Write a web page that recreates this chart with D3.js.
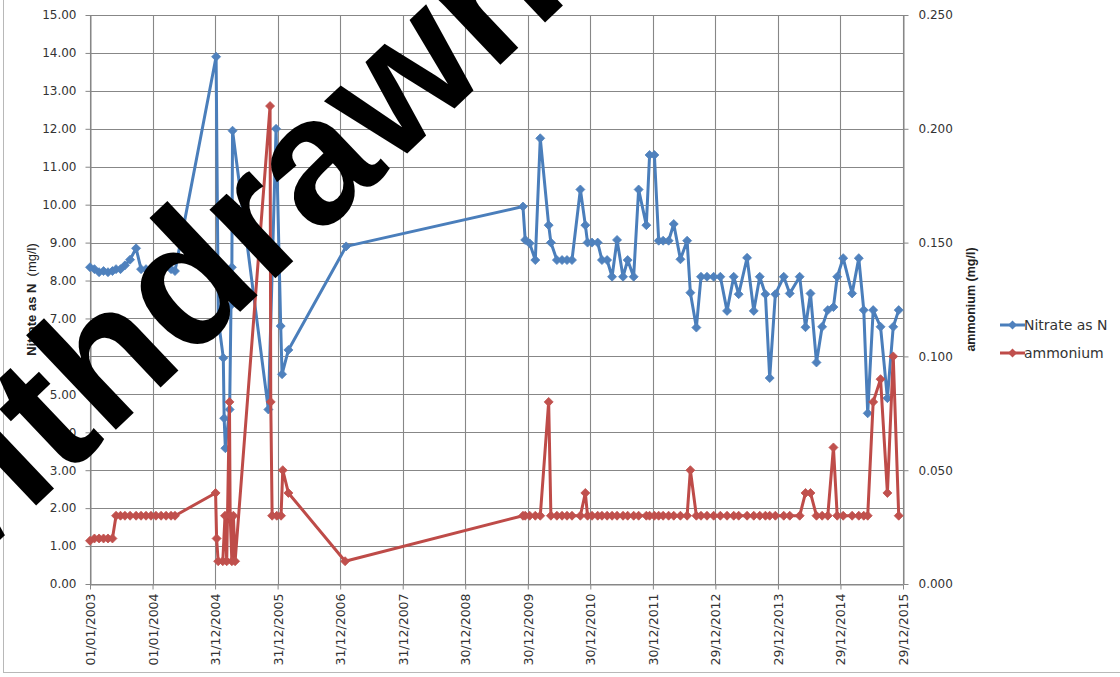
<!DOCTYPE html>
<html><head><meta charset="utf-8">
<script src="https://cdn.jsdelivr.net/npm/d3@7"></script>
<style>html,body{margin:0;padding:0;background:#fff;}svg{display:block;}</style>
</head><body>
<div id="chart"></div>
<script>
// ---------- data ----------
const xTickDates = ["2003-01-01","2004-01-01","2004-12-31","2005-12-31","2006-12-31","2007-12-31","2008-12-30","2009-12-30","2010-12-30","2011-12-30","2012-12-29","2013-12-29","2014-12-29","2015-12-29"];
const leftTicks = [0,1,2,3,4,5,6,7,8,9,10,11,12,13,14,15];
const rightTicks = [0,0.05,0.10,0.15,0.20,0.25];

const sampleDates2003 = ["2003-01-01","2003-01-27","2003-02-23","2003-03-21","2003-04-16","2003-05-12","2003-06-02","2003-06-28","2003-07-24","2003-08-23","2003-09-27","2003-10-26","2003-11-24","2003-12-23","2004-01-21","2004-02-20","2004-03-20","2004-04-18","2004-05-11"];
const nitrate2003 = [8.35,8.30,8.22,8.25,8.22,8.25,8.30,8.30,8.40,8.55,8.85,8.30,8.30,8.20,8.15,8.35,8.40,8.30,8.25];
const ammonium2003 = [0.019,0.02,0.02,0.02,0.02,0.02,0.03,0.03,0.03,0.03,0.03,0.03,0.03,0.03,0.03,0.03,0.03,0.03,0.03];

const nitrateDates2005 = ["2005-01-06","2005-01-19","2005-02-17","2005-02-22","2005-03-01","2005-03-26","2005-04-03","2005-04-08","2005-04-12","2005-11-07","2005-12-22","2006-01-18","2006-01-26","2006-03-04","2007-02-04"];
const nitrate2005 = [13.9,6.96,5.96,4.37,3.58,4.6,7.35,8.35,11.95,4.6,12.0,6.8,5.53,6.17,8.9];

const ammoniumDates2005 = ["2005-01-03","2005-01-09","2005-01-18","2005-02-14","2005-02-27","2005-03-09","2005-03-25","2005-03-29","2005-04-08","2005-04-17","2005-04-27","2005-11-17","2005-11-21","2005-11-29","2005-12-26","2006-01-20","2006-01-30","2006-03-04","2007-01-29"];
const ammonium2005 = [0.04,0.02,0.01,0.01,0.03,0.01,0.08,0.03,0.01,0.03,0.01,0.21,0.08,0.03,0.03,0.03,0.05,0.04,0.01];

const sampleDates2009 = ["2009-12-02","2009-12-15","2010-01-10","2010-02-12","2010-03-13","2010-05-01","2010-05-14","2010-06-18","2010-07-18","2010-08-16","2010-09-14","2010-11-02","2010-12-01","2010-12-14","2011-01-09","2011-02-11","2011-03-08","2011-04-07","2011-05-06","2011-06-04","2011-07-09","2011-08-05","2011-09-09","2011-10-08","2011-11-22","2011-12-11","2012-01-08","2012-02-02","2012-02-28","2012-03-31","2012-04-30","2012-06-08","2012-07-17","2012-08-05","2012-09-09","2012-10-06","2012-11-10","2012-12-19","2013-01-27","2013-03-07","2013-04-15","2013-05-14","2013-07-02","2013-08-10","2013-09-14","2013-10-17","2013-11-11","2013-12-14","2014-02-01","2014-03-08","2014-05-05","2014-06-08","2014-07-07","2014-08-11","2014-09-13","2014-10-16","2014-11-18","2014-12-10","2015-01-14","2015-03-07","2015-04-15","2015-05-14","2015-06-06","2015-07-08","2015-08-20","2015-09-29","2015-11-02","2015-12-04"];
const nitrate2009 = [9.95,9.07,8.98,8.54,11.75,9.46,9.0,8.54,8.54,8.54,8.54,10.4,9.46,9.0,9.0,9.0,8.54,8.54,8.1,9.07,8.1,8.54,8.1,10.4,9.46,11.31,11.31,9.05,9.05,9.05,9.49,8.56,9.05,7.68,6.76,8.1,8.1,8.1,8.1,7.2,8.1,7.64,8.6,7.2,8.1,7.64,5.43,7.64,8.1,7.66,8.1,6.77,7.66,5.84,6.78,7.22,7.3,8.1,8.59,7.66,8.59,7.22,4.5,7.22,6.78,4.9,6.78,7.22];
const ammonium2009 = [0.03,0.03,0.03,0.03,0.03,0.08,0.03,0.03,0.03,0.03,0.03,0.03,0.04,0.03,0.03,0.03,0.03,0.03,0.03,0.03,0.03,0.03,0.03,0.03,0.03,0.03,0.03,0.03,0.03,0.03,0.03,0.03,0.03,0.05,0.03,0.03,0.03,0.03,0.03,0.03,0.03,0.03,0.03,0.03,0.03,0.03,0.03,0.03,0.03,0.03,0.03,0.04,0.04,0.03,0.03,0.03,0.06,0.03,0.03,0.03,0.03,0.03,0.03,0.08,0.09,0.04,0.10,0.03];

const seriesNames = ["Nitrate as N","ammonium"];
const seriesColors = ["#4A7EBB","#BE4B48"];
const markerColors = ["#4F81BD","#C0504D"];

// ---------- build ----------
const parse = d3.utcParse("%Y-%m-%d");
const zip = (ds, vs) => ds.map((d,i)=>({date:parse(d), v:vs[i]}));
const nitrate = [].concat(zip(sampleDates2003,nitrate2003), zip(nitrateDates2005,nitrate2005), zip(sampleDates2009,nitrate2009));
const ammonium = [].concat(zip(sampleDates2003,ammonium2003), zip(ammoniumDates2005,ammonium2005), zip(sampleDates2009,ammonium2009));

const W=1120, H=677;
const L=90, R=903, T=15, B=584;
const svg = d3.select("#chart").append("svg").attr("width",W).attr("height",H);

const x = d3.scaleUtc().domain([parse(xTickDates[0]), parse(xTickDates[xTickDates.length-1])]).range([L,R]);
const yL = d3.scaleLinear().domain([0,15]).range([B,T]);
const yR = d3.scaleLinear().domain([0,0.25]).range([B,T]);

const grid = "#878787";
// chart border
svg.append("rect").attr("x",3.5).attr("y",-10).attr("width",1300).attr("height",682.5)
  .attr("fill","none").attr("stroke","#b8b8b8").attr("stroke-width",1);

// gridlines
svg.append("g").selectAll("line").data(leftTicks).join("line")
  .attr("x1",L).attr("x2",R).attr("y1",d=>Math.round(yL(d))+0.5).attr("y2",d=>Math.round(yL(d))+0.5)
  .attr("stroke",grid).attr("stroke-width",1.1);
svg.append("g").selectAll("line").data(xTickDates).join("line")
  .attr("x1",d=>Math.round(x(parse(d)))+0.5).attr("x2",d=>Math.round(x(parse(d)))+0.5).attr("y1",T).attr("y2",B)
  .attr("stroke",grid).attr("stroke-width",1.1);

// axes
const fontTick = "DejaVu Sans, Verdana, sans-serif";
const gL = svg.append("g").attr("transform",`translate(${L+0.5},0)`)
  .call(d3.axisLeft(yL).tickValues(leftTicks).tickFormat(d3.format(".2f")).tickSize(5).tickSizeOuter(0).tickPadding(9));
const gR = svg.append("g").attr("transform",`translate(${R+0.5},0)`)
  .call(d3.axisRight(yR).tickValues(rightTicks).tickFormat(d3.format(".3f")).tickSize(5).tickSizeOuter(0).tickPadding(10));
const gX = svg.append("g").attr("transform",`translate(0,${B+0.5})`)
  .call(d3.axisBottom(x).tickValues(xTickDates.map(parse)).tickFormat(d3.utcFormat("%d/%m/%Y")).tickSize(5).tickSizeOuter(0));
gX.selectAll("text").attr("transform","rotate(-90)").attr("text-anchor","end")
  .attr("x",-9).attr("y",0).attr("dy","0.36em");
[gL,gR,gX].forEach(g=>{
  g.select(".domain").attr("stroke",grid);
  g.selectAll(".tick line").attr("stroke",grid);
  g.selectAll("text").attr("fill","#333").attr("font-family",fontTick).attr("font-size",12);
});
gX.selectAll("text").attr("font-size",12.5);

// axis titles
const tL = svg.append("text").attr("transform",`translate(36,${(T+B)/2}) rotate(-90)`)
  .attr("text-anchor","middle").attr("font-family","Liberation Sans, Arial, sans-serif").attr("font-size",13).attr("fill","#222");
tL.append("tspan").attr("font-weight","bold").text("Nitrate as N");
tL.append("tspan").attr("xml:space","preserve").text("  (mg/l)");
svg.append("text").attr("transform",`translate(975,${(T+B)/2}) rotate(-90)`)
  .attr("text-anchor","middle").attr("font-family","Liberation Sans, Arial, sans-serif").attr("font-size",12.5)
  .attr("font-weight","bold").attr("fill","#222").text("ammonium (mg/l)");

// series
const diamond = r => `M0,${-r}L${r},0L0,${r}L${-r},0Z`;
function drawSeries(data, yScale, i){
  const line = d3.line().x(d=>x(d.date)).y(d=>yScale(d.v));
  svg.append("path").datum(data).attr("d",line).attr("fill","none")
    .attr("stroke",seriesColors[i]).attr("stroke-width",3).attr("stroke-linejoin","round");
  svg.append("g").selectAll("path").data(data).join("path")
    .attr("d",diamond(4.5)).attr("transform",d=>`translate(${x(d.date)},${yScale(d.v)})`)
    .attr("fill",markerColors[i]).attr("stroke",markerColors[i]).attr("stroke-width",0.8);
}
drawSeries(nitrate, yL, 0);
drawSeries(ammonium, yR, 1);

// legend
const legY = [325,353];
seriesNames.forEach((n,i)=>{
  const g = svg.append("g").attr("transform",`translate(1000,${legY[i]})`);
  g.append("line").attr("x1",0).attr("x2",25).attr("stroke",seriesColors[i]).attr("stroke-width",3);
  g.append("path").attr("d",diamond(4.5)).attr("transform","translate(12.5,0)").attr("fill",markerColors[i]);
  g.append("text").attr("x",24).attr("dy","0.35em").attr("font-family",fontTick).attr("font-size",14)
    .attr("fill","#333").text(n);
});

// watermark
svg.append("text").attr("transform","translate(-95,630) rotate(-43.5)")
  .attr("font-family","Liberation Sans, Arial, sans-serif").attr("font-weight","bold").attr("font-size",180)
  .attr("fill","#000").text("Withdrawn");
</script>
</body></html>
